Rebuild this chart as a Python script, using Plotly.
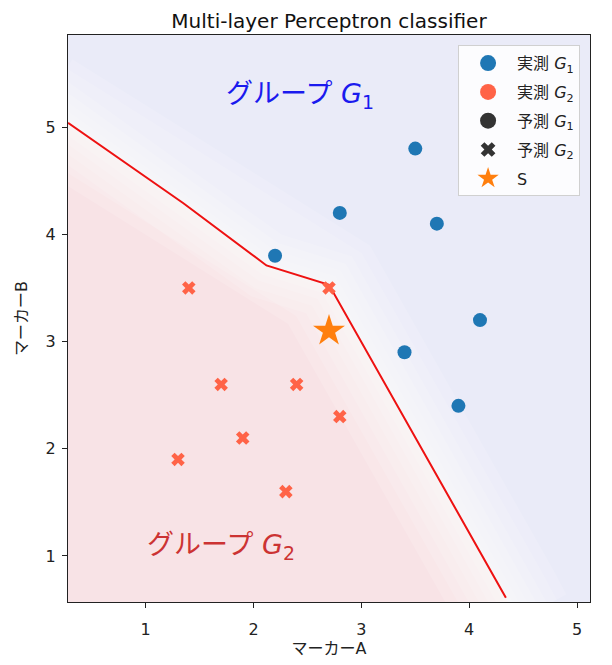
# MLP classifier decision boundary for two groups (markers A / B)

import plotly.graph_objs as go


# measured samples
g1_x = [2.2, 2.8, 3.5, 3.7, 4.1, 3.4, 3.9]
g1_y = [3.8, 4.2, 4.8, 4.1, 3.2, 2.9, 2.4]
g2_x = [1.4, 2.7, 1.7, 2.4, 1.9, 2.8, 1.3, 2.3]
g2_y = [3.5, 3.5, 2.6, 2.6, 2.1, 2.3, 1.9, 1.6]

# new sample S
s_x = [2.7]
s_y = [3.1]

# decision boundary
bound_x = [0.28, 1.35, 2.12, 2.70, 4.34]
bound_y = [5.04, 4.29, 3.71, 3.53, 0.61]

# boundary carried past the axis edges (for shading only)
edge_x = [0.05] + bound_x + [4.45]
edge_y = [5.20] + bound_y + [0.40]

# G2 region is closed below the boundary, outside the axis range
g2_region_x = edge_x + [0.05]
g2_region_y = edge_y + [0.40]

font_main = "DejaVu Sans, Noto Sans CJK JP"

fig = go.Figure()

###background regions###
fig.add_trace(go.Scatter(
    x = g2_region_x, y = g2_region_y,
    mode = 'lines', fill = 'toself',
    fillcolor = '#f8e3e6', line = dict(width = 0),
    hoverinfo = 'skip', showlegend = False
))

# soft white fade along the boundary
for w in [110, 88, 68, 50, 34, 20, 8]:
    fig.add_trace(go.Scatter(
        x = edge_x, y = edge_y, mode = 'lines',
        line = dict(color = 'white', width = w),
        opacity = 0.14, hoverinfo = 'skip', showlegend = False
    ))

fig.add_trace(go.Scatter(
    x = bound_x, y = bound_y, mode = 'lines',
    line = dict(color = '#ee1111', width = 2),
    hoverinfo = 'skip', showlegend = False
))

###points###
fig.add_trace(go.Scatter(
    x = g1_x, y = g1_y, mode = 'markers',
    marker = dict(symbol = 'circle', size = 14, color = '#1f77b4'),
    showlegend = False
))
fig.add_trace(go.Scatter(
    x = g2_x, y = g2_y, mode = 'markers',
    marker = dict(symbol = 'x', size = 12, color = '#ff6347'),
    showlegend = False
))
fig.add_trace(go.Scatter(
    x = s_x, y = s_y, mode = 'markers',
    marker = dict(symbol = 'star', size = 24, color = '#ff7f0e'),
    showlegend = False
))

###legend entries###
legend_items = [
    ("実測 <i>G</i><sub>1</sub>", 'circle', '#1f77b4', 16),
    ("実測 <i>G</i><sub>2</sub>", 'circle', '#ff6347', 16),
    ("予測 <i>G</i><sub>1</sub>", 'circle', '#333333', 16),
    ("予測 <i>G</i><sub>2</sub>", 'x', '#333333', 13),
    ("S", 'star', '#ff7f0e', 24),
]
for i, (name, sym, col, sz) in enumerate(legend_items):
    fig.add_trace(go.Scatter(
        x = [None], y = [None], mode = 'markers', name = name,
        legendgroup = str(i),
        marker = dict(symbol = sym, size = sz, color = col)
    ))

fig.update_layout(
    width = 604, height = 657,
    margin = dict(l = 60, r = 22, t = 27, b = 63),
    paper_bgcolor = 'white',
    plot_bgcolor = '#eaebf8',
    font = dict(family = font_main, size = 15, color = '#222222'),
    title = dict(text = "Multi-layer Perceptron classifier",
                 xref = 'paper', x = 0.5, xanchor = 'center',
                 y = 0.98, yanchor = 'middle',
                 font = dict(size = 20, color = '#111111')),
    legend = dict(x = 0.981, y = 0.982, xanchor = 'right', yanchor = 'top',
                  bgcolor = 'rgba(255,255,255,0.85)', bordercolor = '#d0d0d0',
                  borderwidth = 1, tracegroupgap = 5, itemwidth = 48,
                  font = dict(size = 16)),
    xaxis = dict(range = [0.28, 5.12], tickvals = [1, 2, 3, 4, 5],
                 showgrid = False, zeroline = False,
                 showline = True, linecolor = '#222222', linewidth = 1, mirror = True,
                 ticks = 'outside', ticklen = 5, tickcolor = '#222222',
                 tickfont = dict(size = 16), ticklabelstandoff = 8,
                 title = dict(text = "マーカーA", standoff = 0, font = dict(size = 16))),
    yaxis = dict(range = [0.57, 5.86], tickvals = [1, 2, 3, 4, 5],
                 showgrid = False, zeroline = False,
                 showline = True, linecolor = '#222222', linewidth = 1, mirror = True,
                 ticks = 'outside', ticklen = 5, tickcolor = '#222222',
                 tickfont = dict(size = 16), ticklabelstandoff = 3,
                 title = dict(text = "マーカーB", standoff = 14, font = dict(size = 16))),
)

# group labels
fig.add_annotation(text = "グループ <i>G</i><sub>1</sub>", x = 2.43, y = 5.3,
                   showarrow = False, font = dict(size = 27, color = '#1a1aee'))
fig.add_annotation(text = "グループ <i>G</i><sub>2</sub>", x = 1.70, y = 1.09,
                   showarrow = False, font = dict(size = 27, color = '#cc3333'))

fig.write_html("out.html")
